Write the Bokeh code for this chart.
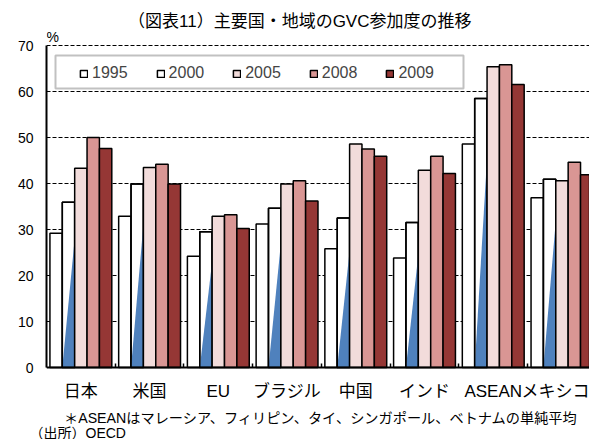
from bokeh.plotting import figure
from bokeh.models import (Range1d, FixedTicker, Legend, LegendItem, Label,
                          BoxAnnotation, Title)
from bokeh.embed import file_html
from bokeh.resources import INLINE

# ---------------- data ----------------
categories = ["日本", "米国", "EU", "ブラジル", "中国", "インド", "ASEAN", "メキシコ"]
years = ["1995", "2000", "2005", "2008", "2009"]
v1995 = [29.2, 32.9, 24.2, 31.2, 25.8, 23.8, 48.6, 36.9]
v2000 = [35.9, 39.9, 29.5, 34.6, 32.5, 31.5, 58.5, 40.9]
v2005 = [43.3, 43.5, 32.9, 39.9, 48.6, 42.9, 65.4, 40.6]
v2008 = [50.0, 44.2, 33.2, 40.6, 47.5, 45.9, 65.8, 44.6]
v2009 = [47.6, 39.9, 30.2, 36.2, 45.9, 42.2, 61.5, 41.9]
y_ticks = [0, 10, 20, 30, 40, 50, 60, 70]
title_text = "（図表11）主要国・地域のGVC参加度の推移"
unit_text = "%"
note_text = "＊ASEANはマレーシア、フィリピン、タイ、シンガポール、ベトナムの単純平均"
source_text = "（出所）OECD"

series = [v1995, v2000, v2005, v2008, v2009]
colors = ["#FFFFFF", "#FFFFFF", "#F2DCDB", "#D99694", "#953735"]
BLUE = "#4F81BD"
LATIN = "Liberation Sans"
MIXED = "Liberation Sans, Noto Sans CJK JP"

# ---------------- layout (pixels) ----------------
W, H = 589, 439
LEFT = 46          # frame left edge
BOTTOM_BORDER = 14 # space below the frame (source line)
FRAME_H = H - BOTTOM_BORDER
Y_TOP_PX = 45      # pixel row of the top tick
Y_ZERO_PX = 367    # pixel row of zero
PX_PER_UNIT = (Y_ZERO_PX - Y_TOP_PX) / (y_ticks[-1] - y_ticks[0])
y_lo = y_ticks[0] - (FRAME_H - Y_ZERO_PX) / PX_PER_UNIT
y_hi = y_ticks[-1] + Y_TOP_PX / PX_PER_UNIT
x_hi = (W - LEFT) / 68.73

p = figure(width=W, height=H, output_backend="svg", toolbar_location=None,
           x_range=Range1d(0, x_hi), y_range=Range1d(y_lo, y_hi),
           min_border_left=LEFT, min_border_right=0, min_border_top=0,
           min_border_bottom=BOTTOM_BORDER)
p.outline_line_color = None
p.background_fill_color = "white"
p.border_fill_color = "white"

bw = 0.18
centers = [i + 0.5 for i in range(len(categories))]
renderers = []
for k, (yr, vals, col) in enumerate(zip(years, series, colors)):
    xs = [c + (k - 2) * bw for c in centers]
    r = p.vbar(x=xs, top=vals, width=bw, bottom=0, fill_color=col,
               line_color="#000000", line_width=1.5)
    renderers.append(r)
    if yr == "2000":
        px = [[x - bw / 2, x + bw / 2, x + bw / 2] for x in xs]
        py = [[0, 0, 0.78 * v] for v in vals]
        p.patches(px, py, fill_color=BLUE, line_color=None)
        p.vbar(x=xs, top=vals, width=bw, bottom=0, fill_color=None,
               line_color="#000000", line_width=1.5)

# ---------------- axes ----------------
xa = p.xaxis[0]
xa.fixed_location = 0
xa.ticker = FixedTicker(ticks=centers, minor_ticks=list(range(1, len(categories))))
xa.major_label_overrides = {c: n for c, n in zip(centers, categories)}
xa.axis_line_width = 2
xa.axis_line_color = "#000000"
xa.major_tick_in = 0
xa.major_tick_out = 0
xa.minor_tick_in = 4
xa.minor_tick_out = 0
xa.minor_tick_line_width = 1.5
xa.minor_tick_line_color = "#000000"
xa.major_label_standoff = 14
xa.major_label_text_font = MIXED
xa.major_label_text_font_size = "17px"
xa.major_label_text_color = "#000000"

ya = p.yaxis[0]
ya.ticker = FixedTicker(ticks=y_ticks, minor_ticks=[])
ya.bounds = (y_ticks[0], y_ticks[-1])
ya.axis_line_width = 2
ya.axis_line_color = "#000000"
ya.major_tick_in = 0
ya.major_tick_out = 0
ya.minor_tick_in = 0
ya.minor_tick_out = 0
ya.major_label_standoff = 13
ya.major_label_text_font = LATIN
ya.major_label_text_font_size = "14px"
ya.major_label_text_color = "#000000"

p.xgrid.visible = False
p.ygrid.grid_line_color = "#000000"
p.ygrid.grid_line_dash = "4 2"
p.ygrid.grid_line_width = 1.2

# ---------------- legend ----------------
box = BoxAnnotation(left=9, right=417, top=FRAME_H - 55, bottom=FRAME_H - 88,
                    left_units="screen", right_units="screen",
                    top_units="screen", bottom_units="screen",
                    fill_color="white", fill_alpha=1.0,
                    line_color="#333333", line_width=2)
p.add_layout(box)

items = [LegendItem(label=yr, renderers=[r]) for yr, r in zip(years, renderers)]
legend = Legend(items=items, orientation="horizontal", location=(33, FRAME_H - 82),
                padding=0, spacing=28, margin=0, glyph_width=9, glyph_height=9,
                label_standoff=4, label_text_font=LATIN, label_text_font_size="16px",
                label_height=16, border_line_color=None, background_fill_alpha=0)
p.add_layout(legend, "center")

# ---------------- texts ----------------
p.add_layout(Label(x=81.5, y=FRAME_H - 20.5, x_units="screen", y_units="screen",
                   text=title_text, text_font=MIXED, text_font_size="17px",
                   text_align="left", text_baseline="middle", text_color="#000000"))
p.add_layout(Label(x=0, y=FRAME_H - 36.5, x_units="screen", y_units="screen",
                   text=unit_text, text_font=LATIN, text_font_size="14px",
                   text_align="left", text_baseline="middle", text_color="#000000"))
p.add_layout(Label(x=17.5, y=FRAME_H - 417.5, x_units="screen", y_units="screen",
                   text=note_text, text_font=MIXED, text_font_size="14.2px",
                   text_align="left", text_baseline="middle", text_color="#000000"))
p.add_layout(Title(text=source_text, align="left", offset=-17, standoff=-6,
                   vertical_align="bottom", text_font=MIXED, text_font_size="14px",
                   text_font_style="normal", text_color="#000000"), "below")

open("out.html", "w").write(file_html(p, INLINE))
